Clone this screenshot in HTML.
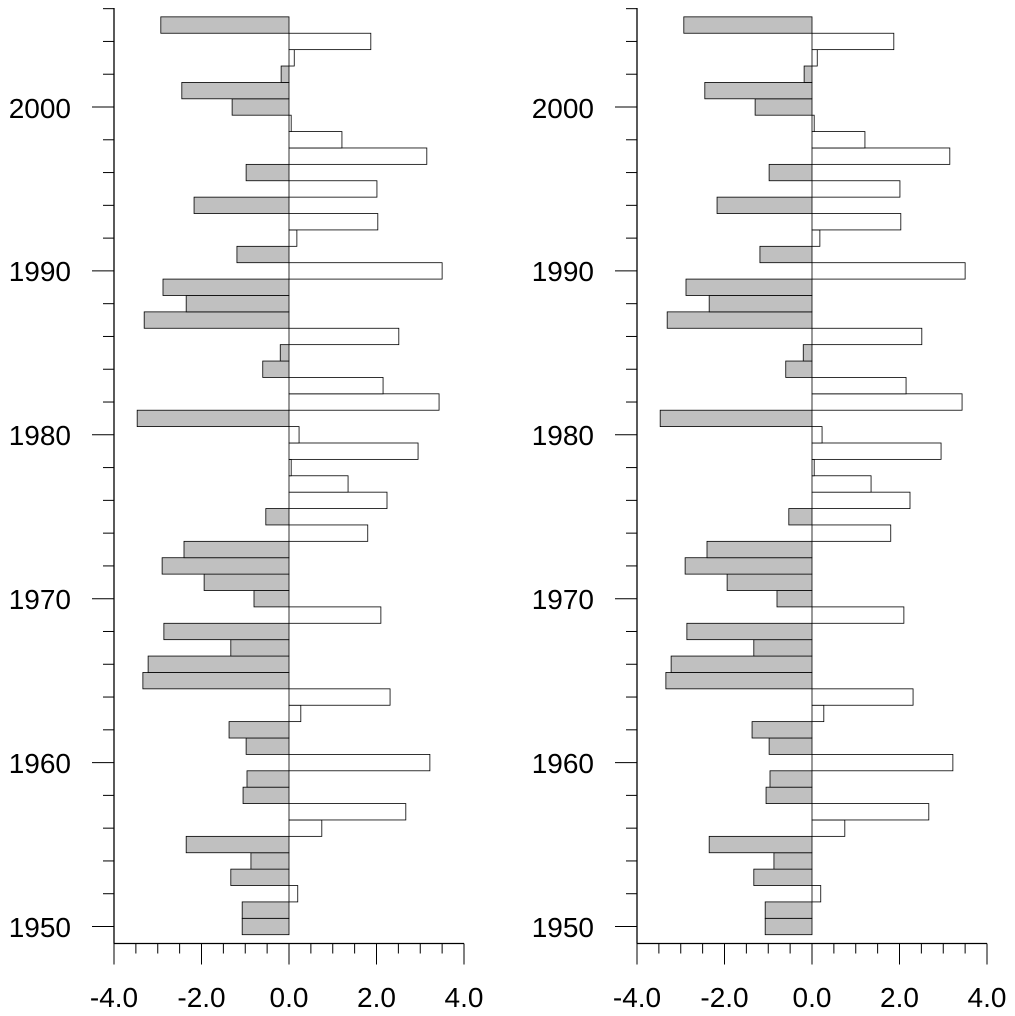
<!DOCTYPE html>
<html><head><meta charset="utf-8"><style>body{margin:0;background:#fff}svg{display:block}text{font-family:"Liberation Sans",sans-serif;font-size:28px;fill:#000}</style></head>
<body>
<svg id="s" width="1015" height="1016" viewBox="0 0 1015 1016">
<g id="p0"></g><g id="p1"></g>
<text x="71" y="937" text-anchor="end">1950</text>
<text x="71" y="773" text-anchor="end">1960</text>
<text x="71" y="609" text-anchor="end">1970</text>
<text x="71" y="445" text-anchor="end">1980</text>
<text x="71" y="281" text-anchor="end">1990</text>
<text x="71" y="118" text-anchor="end">2000</text>
<text x="114" y="1007" text-anchor="middle">-4.0</text>
<text x="201.5" y="1007" text-anchor="middle">-2.0</text>
<text x="289" y="1007" text-anchor="middle">0.0</text>
<text x="376.5" y="1007" text-anchor="middle">2.0</text>
<text x="464" y="1007" text-anchor="middle">4.0</text>
<text x="594" y="937" text-anchor="end">1950</text>
<text x="594" y="773" text-anchor="end">1960</text>
<text x="594" y="609" text-anchor="end">1970</text>
<text x="594" y="445" text-anchor="end">1980</text>
<text x="594" y="281" text-anchor="end">1990</text>
<text x="594" y="118" text-anchor="end">2000</text>
<text x="637" y="1007" text-anchor="middle">-4.0</text>
<text x="724.5" y="1007" text-anchor="middle">-2.0</text>
<text x="812" y="1007" text-anchor="middle">0.0</text>
<text x="899.5" y="1007" text-anchor="middle">2.0</text>
<text x="987" y="1007" text-anchor="middle">4.0</text>
</svg>
<script>
var v=[-1.07,-1.07,0.2,-1.33,-0.87,-2.35,0.75,2.67,-1.05,-0.96,3.22,-0.98,-1.37,0.27,2.31,-3.34,-3.22,-1.33,-2.86,2.1,-0.8,-1.94,-2.9,-2.4,1.8,-0.53,2.24,1.35,0.05,2.95,0.23,-3.47,3.43,2.15,-0.6,-0.2,2.51,-3.31,-2.35,-2.88,3.5,-1.19,0.18,2.03,-2.17,2.01,-0.98,3.15,1.21,0.05,-1.3,-2.45,-0.18,0.12,1.87,-2.93];
var NS="http://www.w3.org/2000/svg";
function el(g,t,a){var e=document.createElementNS(NS,t);for(var k in a)e.setAttribute(k,a[k]);g.appendChild(e);}
function Y(yr){return 926.5-(yr-1950)*16.39;}
[[114,"p0"],[637,"p1"]].forEach(function(p){
 var x0=p[0],g=document.getElementById(p[1]),z=x0+175,u=43.75;
 v.forEach(function(d,i){var yr=1950+i,t=Y(yr+0.5),b=Y(yr-0.5);
  var x=d<0?z+d*u:z;el(g,"rect",{x:x,y:t,width:Math.abs(d)*u,height:b-t,fill:d<0?"#c0c0c0":"#fff",stroke:"#000","stroke-width":0.8});});
 var yb=943.5;
 el(g,"line",{x1:x0,y1:8,x2:x0,y2:yb,stroke:"#000","stroke-width":1.3});
 el(g,"line",{x1:x0,y1:yb,x2:x0+350,y2:yb,stroke:"#000","stroke-width":1.3});
 for(var yr=1950;yr<=2006;yr+=2){var y=Y(yr),maj=yr%10==0;el(g,"line",{x1:maj?x0-22:x0-11,y1:y,x2:x0,y2:y,stroke:"#000","stroke-width":1});}
 for(var k=0;k<=16;k++){var x=x0+k*u/2,maj=k%4==0;el(g,"line",{x1:x,y1:yb,x2:x,y2:maj?yb+21:yb+10,stroke:"#000","stroke-width":1});}
});
</script>
</body></html>
